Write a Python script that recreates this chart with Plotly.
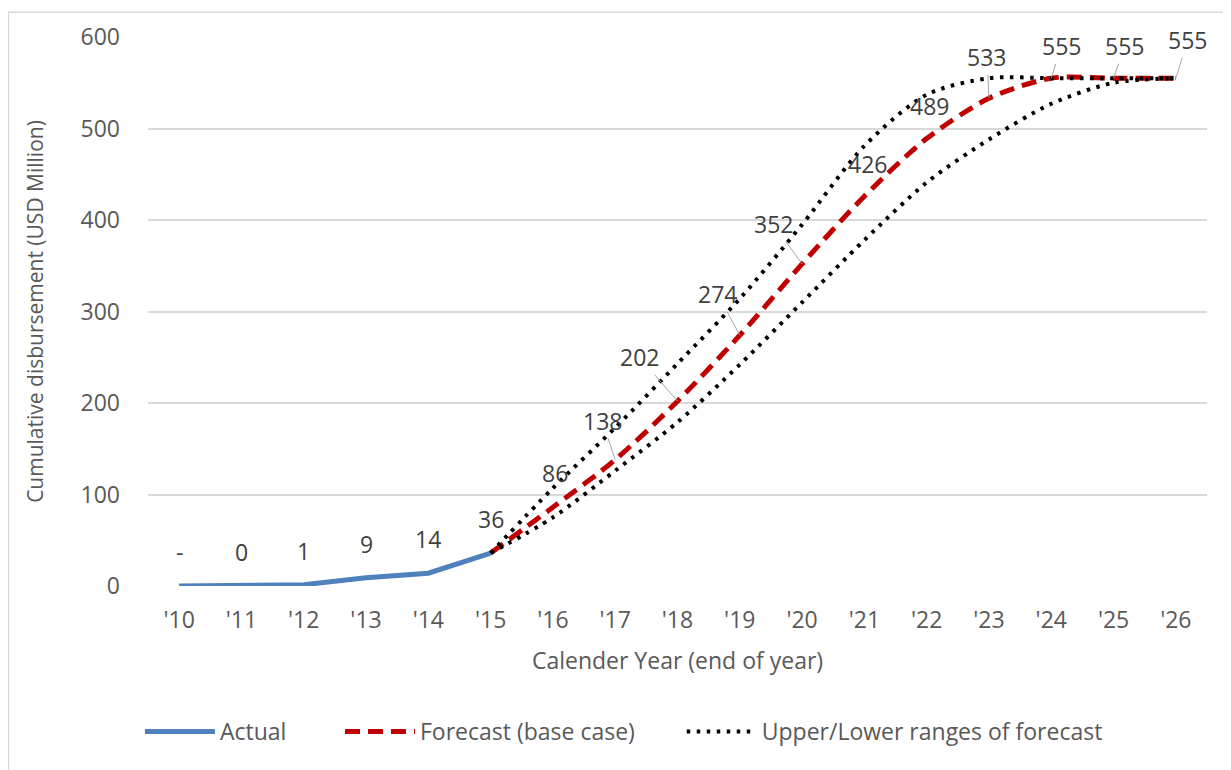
import plotly.graph_objects as go

years = ["'10", "'11", "'12", "'13", "'14", "'15", "'16", "'17", "'18",
         "'19", "'20", "'21", "'22", "'23", "'24", "'25", "'26"]

actual_years = years[:6]
actual_vals = [0, 0.3, 1.4, 9, 14, 36]
actual_labels = ["-", "0", "1", "9", "14", "36"]

fc_years = years[5:]
base_vals = [36, 86, 138, 202, 274, 352, 426, 489, 533, 555, 555, 555]
upper_vals = [36, 107, 173, 243, 314, 395, 481, 537, 555, 555, 555, 555]
lower_vals = [36, 75, 126, 179, 242, 310, 378, 441, 488, 527, 550, 555]
base_labels = ["", "86", "138", "202", "274", "352", "426", "489", "533", "555", "555", "555"]

# label placement (pixel offsets from point, leader line flag)
base_label_pos = [None, (2, -34, False), (-13, -39, True), (-38, -44, True),
                  (-22, -41, True), (-29, -40, True), (3, -32, False),
                  (3, -33, False), (-2, -41, True), (10, -32, True),
                  (11, -32, True), (12, -38, True)]

FONT = "Open Sans"
FS = 23
LBL = dict(family=FONT, size=FS, color="#404040")
TXT = dict(family=FONT, size=FS, color="#595959")

fig = go.Figure()

fig.add_trace(go.Scatter(
    x=actual_years, y=actual_vals, mode="lines", name="Actual", legend="legend",
    line=dict(color="#4F81BD", width=5), hoverinfo="skip"))

fig.add_trace(go.Scatter(
    x=fc_years, y=base_vals, mode="lines", name="Forecast (base case)", legend="legend2",
    line=dict(color="#C00000", width=5, dash="15px,8px", shape="spline", smoothing=0.8),
    hoverinfo="skip"))

fig.add_trace(go.Scatter(
    x=fc_years, y=upper_vals, mode="lines", name="Upper/Lower ranges of forecast",
    legend="legend3", legendgroup="range",
    line=dict(color="#000000", width=4, dash="3.5px,6.5px", shape="spline", smoothing=0.8),
    hoverinfo="skip"))

fig.add_trace(go.Scatter(
    x=fc_years, y=lower_vals, mode="lines", name="Upper/Lower ranges of forecast",
    legend="legend3", legendgroup="range", showlegend=False,
    line=dict(color="#000000", width=4, dash="3.5px,6.5px", shape="spline", smoothing=0.8),
    hoverinfo="skip"))

annotations = []
for xv, yv, t in zip(actual_years, actual_vals, actual_labels):
    annotations.append(dict(x=xv, y=yv, text=t, showarrow=False, yshift=34, font=LBL))

for xv, yv, t, pos in zip(fc_years, base_vals, base_labels, base_label_pos):
    if pos is None:
        continue
    dx, dy, leader = pos
    if leader:
        annotations.append(dict(x=xv, y=yv, text=t, showarrow=True, arrowhead=0,
                                arrowwidth=1, arrowcolor="#A6A6A6", ax=dx, ay=dy,
                                standoff=0, font=LBL))
    else:
        annotations.append(dict(x=xv, y=yv, text=t, showarrow=False,
                                xshift=dx, yshift=-dy, font=LBL))

L, T, R, B = 140, 26, 32, 192
PW, PH = 1231 - L - R, 770 - T - B

leg_common = dict(orientation="h", xanchor="left", y=-0.265, yanchor="middle",
                  font=TXT, itemwidth=70, bgcolor="rgba(0,0,0,0)")

fig.update_layout(
    width=1231, height=770,
    margin=dict(l=L, r=R, t=T, b=B),
    paper_bgcolor="white", plot_bgcolor="white",
    font=TXT,
    showlegend=True,
    legend=dict(x=-0.0076, **leg_common),
    legend2=dict(x=0.1813, **leg_common),
    legend3=dict(x=0.504, **leg_common),
    annotations=annotations,
    shapes=[dict(type="rect", xref="paper", yref="paper",
                 x0=(0.5 - L) / PW, x1=(1220 - L) / PW,
                 y0=(PH - (790 - T)) / PH, y1=(PH + T - 1) / PH,
                 line=dict(color="#D9D9D9", width=1.5), fillcolor="rgba(0,0,0,0)",
                 layer="below")],
)

fig.update_xaxes(
    type="category", categoryorder="array", categoryarray=years,
    range=[-0.5, 16.5], showgrid=False, showline=False, zeroline=False,
    ticks="", ticklabelstandoff=18, tickfont=TXT,
    title=dict(text="Calender Year (end of year)", standoff=18, font=TXT))

fig.update_yaxes(
    range=[0, 600], dtick=100, showgrid=True, gridcolor="#D9D9D9", gridwidth=1.5,
    zeroline=False, showline=False, ticks="", ticklabelstandoff=27, tickfont=TXT,
    title=dict(text="Cumulative disbursement (USD Million)", standoff=31,
               font=dict(family=FONT, size=21, color="#595959")))

fig.write_html("out.html")
